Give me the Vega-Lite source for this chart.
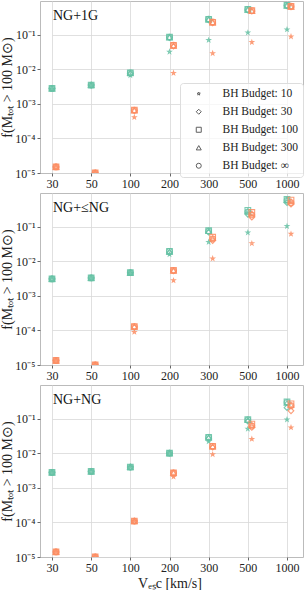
{
  "$schema": "https://vega.github.io/schema/vega-lite/v6.json",
  "padding": {"left": 0, "top": 0, "right": 0, "bottom": 0},
  "config": {
    "font": "Liberation Serif",
    "view": {"stroke": "#bbbbbb", "strokeWidth": 1},
    "axis": {"grid": true, "gridColor": "#d8d8d8", "gridWidth": 0.8, "domain": false, "tickColor": "#666666", "tickSize": 3, "labelFontSize": 12, "labelColor": "#222222", "titleFontSize": 14, "titleFontWeight": "normal", "titleColor": "#222222", "labelFont": "Liberation Serif", "titleFont": "Liberation Serif", "labelPadding": 2}
  },
  "spacing": 20,
  "bounds": "flush",
  "resolve": {"scale": {"shape": "independent"}, "legend": {"shape": "independent"}},
  "datasets": {
    "d": [
      {"panel": "1G", "model": "A", "vesc": 30, "10": 0.0027, "30": 0.0028, "100": 0.0028, "300": 0.0028, "∞": 0.0028},
      {"panel": "1G", "model": "A", "vesc": 50, "10": 0.0034, "30": 0.0035, "100": 0.0035, "300": 0.0035, "∞": 0.0035},
      {"panel": "1G", "model": "A", "vesc": 100, "10": 0.0067, "30": 0.0076, "100": 0.0079, "300": 0.0078, "∞": 0.0079},
      {"panel": "1G", "model": "A", "vesc": 200, "10": 0.032, "30": 0.083, "100": 0.086, "300": 0.085, "∞": 0.086},
      {"panel": "1G", "model": "A", "vesc": 300, "10": 0.07, "30": 0.27, "100": 0.28, "300": 0.28, "∞": 0.285},
      {"panel": "1G", "model": "A", "vesc": 500, "10": 0.115, "30": 0.52, "100": 0.54, "300": 0.53, "∞": 0.54},
      {"panel": "1G", "model": "A", "vesc": 1000, "10": 0.142, "30": 0.69, "100": 0.71, "300": 0.70, "∞": 0.71},
      {"panel": "1G", "model": "B", "vesc": 30, "10": 0.0000145, "30": 0.000015, "100": 0.000015, "300": 0.000015, "∞": 0.000015},
      {"panel": "1G", "model": "B", "vesc": 50, "10": 0.00001, "30": 0.00001, "100": 0.00001, "300": 0.00001, "∞": 0.00001},
      {"panel": "1G", "model": "B", "vesc": 100, "10": 0.00041, "30": 0.00064, "100": 0.00066, "300": 0.00065, "∞": 0.00066},
      {"panel": "1G", "model": "B", "vesc": 200, "10": 0.0078, "30": 0.047, "100": 0.049, "300": 0.048, "∞": 0.05},
      {"panel": "1G", "model": "B", "vesc": 300, "10": 0.029, "30": 0.22, "100": 0.23, "300": 0.23, "∞": 0.235},
      {"panel": "1G", "model": "B", "vesc": 500, "10": 0.061, "30": 0.48, "100": 0.5, "300": 0.49, "∞": 0.5},
      {"panel": "1G", "model": "B", "vesc": 1000, "10": 0.089, "30": 0.64, "100": 0.66, "300": 0.65, "∞": 0.67},
      {"panel": "LE", "model": "A", "vesc": 30, "10": 0.0030, "30": 0.0031, "100": 0.0031, "300": 0.0031, "∞": 0.0031},
      {"panel": "LE", "model": "A", "vesc": 50, "10": 0.0032, "30": 0.0033, "100": 0.0033, "300": 0.0033, "∞": 0.0033},
      {"panel": "LE", "model": "A", "vesc": 100, "10": 0.0046, "30": 0.0047, "100": 0.0047, "300": 0.0047, "∞": 0.0047},
      {"panel": "LE", "model": "A", "vesc": 200, "10": 0.016, "30": 0.018, "100": 0.0195, "300": 0.019, "∞": 0.0195},
      {"panel": "LE", "model": "A", "vesc": 300, "10": 0.036, "30": 0.07, "100": 0.077, "300": 0.075, "∞": 0.075},
      {"panel": "LE", "model": "A", "vesc": 500, "10": 0.068, "30": 0.23, "100": 0.30, "300": 0.28, "∞": 0.27},
      {"panel": "LE", "model": "A", "vesc": 1000, "10": 0.104, "30": 0.50, "100": 0.62, "300": 0.60, "∞": 0.58},
      {"panel": "LE", "model": "B", "vesc": 30, "10": 0.0000135, "30": 0.0000135, "100": 0.0000135, "300": 0.0000135, "∞": 0.0000135},
      {"panel": "LE", "model": "B", "vesc": 50, "10": 0.00001, "30": 0.00001, "100": 0.00001, "300": 0.00001, "∞": 0.00001},
      {"panel": "LE", "model": "B", "vesc": 100, "10": 0.00009, "30": 0.000125, "100": 0.00013, "300": 0.00013, "∞": 0.00013},
      {"panel": "LE", "model": "B", "vesc": 200, "10": 0.0028, "30": 0.0053, "100": 0.0055, "300": 0.0054, "∞": 0.0054},
      {"panel": "LE", "model": "B", "vesc": 300, "10": 0.012, "30": 0.040, "100": 0.050, "300": 0.047, "∞": 0.045},
      {"panel": "LE", "model": "B", "vesc": 500, "10": 0.033, "30": 0.19, "100": 0.26, "300": 0.24, "∞": 0.22},
      {"panel": "LE", "model": "B", "vesc": 1000, "10": 0.062, "30": 0.45, "100": 0.59, "300": 0.55, "∞": 0.50},
      {"panel": "NG", "model": "A", "vesc": 30, "10": 0.0028, "30": 0.0028, "100": 0.0028, "300": 0.0028, "∞": 0.0028},
      {"panel": "NG", "model": "A", "vesc": 50, "10": 0.0030, "30": 0.0030, "100": 0.0030, "300": 0.0030, "∞": 0.0030},
      {"panel": "NG", "model": "A", "vesc": 100, "10": 0.0040, "30": 0.0040, "100": 0.0040, "300": 0.0040, "∞": 0.0040},
      {"panel": "NG", "model": "A", "vesc": 200, "10": 0.0098, "30": 0.0101, "100": 0.0101, "300": 0.0101, "∞": 0.0101},
      {"panel": "NG", "model": "A", "vesc": 300, "10": 0.022, "30": 0.027, "100": 0.029, "300": 0.029, "∞": 0.029},
      {"panel": "NG", "model": "A", "vesc": 500, "10": 0.051, "30": 0.085, "100": 0.095, "300": 0.093, "∞": 0.093},
      {"panel": "NG", "model": "A", "vesc": 1000, "10": 0.095, "30": 0.21, "100": 0.31, "300": 0.29, "∞": 0.30},
      {"panel": "NG", "model": "B", "vesc": 30, "10": 0.000014, "30": 0.000014, "100": 0.000014, "300": 0.000014, "∞": 0.000014},
      {"panel": "NG", "model": "B", "vesc": 50, "10": 0.00001, "30": 0.00001, "100": 0.00001, "300": 0.00001, "∞": 0.00001},
      {"panel": "NG", "model": "B", "vesc": 100, "10": 0.00011, "30": 0.00011, "100": 0.00011, "300": 0.00011, "∞": 0.00011},
      {"panel": "NG", "model": "B", "vesc": 200, "10": 0.0021, "30": 0.0027, "100": 0.0027, "300": 0.0027, "∞": 0.0027},
      {"panel": "NG", "model": "B", "vesc": 300, "10": 0.0093, "30": 0.015, "100": 0.016, "300": 0.016, "∞": 0.016},
      {"panel": "NG", "model": "B", "vesc": 500, "10": 0.026, "30": 0.056, "100": 0.070, "300": 0.066, "∞": 0.062},
      {"panel": "NG", "model": "B", "vesc": 1000, "10": 0.056, "30": 0.17, "100": 0.27, "300": 0.25, "∞": 0.24}
    ]
  },
  "vconcat": [
    {
      "width": 263, "height": 172,
      "title": {"text": "NG+1G", "anchor": "start", "frame": "group", "offset": -22, "dx": 13, "fontSize": 14, "fontWeight": "normal", "color": "#111111", "font": "Liberation Serif"},
      "data": {"name": "d"},
      "encoding": {
        "x": {"field": "vesc", "type": "ordinal", "scale": {"type": "point", "range": [12, 247], "padding": 0}, "axis": {"labelAngle": 0, "title": null}},
        "y": {"field": "f", "type": "quantitative", "scale": {"type": "log", "domain": [0.00001, 0.95], "nice": false}, "axis": {"values": [0.00001, 0.0001, 0.001, 0.01, 0.1], "labelExpr": "datum.value >= 0.09 ? '10⁻¹' : datum.value >= 0.009 ? '10⁻²' : datum.value >= 0.0009 ? '10⁻³' : datum.value >= 0.00009 ? '10⁻⁴' : '10⁻⁵'", "title": "f(Mₜₒₜ > 100 M⊙)", "titlePadding": 0}}
      },
      "layer": [
        {"data": {"values": [{}]}, "mark": {"type": "rect", "color": "#7fd6d6", "opacity": 0.2}, "encoding": {"x": {"value": 0}, "x2": {"value": "width"}, "y": {"datum": 0.0155, "type": "quantitative"}, "y2": {"datum": 0.00001}}},
        {"transform": [{"filter": "datum.panel == '1G' && datum.model == 'A'"}, {"fold": ["10", "30", "100", "300", "∞"], "as": ["budget", "f"]}],
         "mark": {"type": "point", "filled": false, "color": "#66c2a5", "strokeWidth": 1.1, "size": 32, "opacity": 0.85, "clip": true},
         "encoding": {"shape": {"field": "budget", "type": "nominal", "scale": {"domain": ["10", "30", "100", "300", "∞"], "range": ["M0,-0.65L0.153,-0.21L0.618,-0.201L0.247,0.08L0.382,0.526L0,0.26L-0.382,0.526L-0.247,0.08L-0.618,-0.201L-0.153,-0.21Z", "diamond", "square", "triangle-up", "circle"]},
           "legend": {"orient": "none", "legendX": 140, "legendY": 82, "title": null, "labelExpr": "'BH Budget: ' + datum.label", "fillColor": "rgba(255,255,255,0.75)", "strokeColor": "#dddddd", "cornerRadius": 3, "padding": 5, "symbolOffset": 8, "symbolStrokeColor": "#444444", "symbolFillColor": "transparent", "symbolStrokeWidth": 1, "symbolSize": 25, "labelFontSize": 11.5, "labelFont": "Liberation Serif", "labelColor": "#222222", "rowPadding": 5, "labelOffset": 18}}}},
        {"transform": [{"filter": "datum.panel == '1G' && datum.model == 'B'"}, {"fold": ["10", "30", "100", "300", "∞"], "as": ["budget", "f"]}],
         "mark": {"type": "point", "filled": false, "color": "#fc8d62", "strokeWidth": 1.1, "size": 32, "opacity": 0.85, "clip": true, "xOffset": 4},
         "encoding": {"shape": {"field": "budget", "type": "nominal"}}}
      ]
    },
    {
      "width": 263, "height": 172,
      "title": {"text": "NG+≤NG", "anchor": "start", "frame": "group", "offset": -22, "dx": 13, "fontSize": 14, "fontWeight": "normal", "color": "#111111", "font": "Liberation Serif"},
      "data": {"name": "d"},
      "encoding": {
        "x": {"field": "vesc", "type": "ordinal", "scale": {"type": "point", "range": [12, 247], "padding": 0}, "axis": {"labelAngle": 0, "title": null}},
        "y": {"field": "f", "type": "quantitative", "scale": {"type": "log", "domain": [0.00001, 0.95], "nice": false}, "axis": {"values": [0.00001, 0.0001, 0.001, 0.01, 0.1], "labelExpr": "datum.value >= 0.09 ? '10⁻¹' : datum.value >= 0.009 ? '10⁻²' : datum.value >= 0.0009 ? '10⁻³' : datum.value >= 0.00009 ? '10⁻⁴' : '10⁻⁵'", "title": "f(Mₜₒₜ > 100 M⊙)", "titlePadding": 0}}
      },
      "layer": [
        {"data": {"values": [{}]}, "mark": {"type": "rect", "color": "#7fd6d6", "opacity": 0.2}, "encoding": {"x": {"value": 0}, "x2": {"value": "width"}, "y": {"datum": 0.0155, "type": "quantitative"}, "y2": {"datum": 0.00001}}},
        {"transform": [{"filter": "datum.panel == 'LE' && datum.model == 'A'"}, {"fold": ["10", "30", "100", "300", "∞"], "as": ["budget", "f"]}],
         "mark": {"type": "point", "filled": false, "color": "#66c2a5", "strokeWidth": 1.1, "size": 32, "opacity": 0.85, "clip": true},
         "encoding": {"shape": {"field": "budget", "type": "nominal", "scale": {"domain": ["10", "30", "100", "300", "∞"], "range": ["M0,-0.65L0.153,-0.21L0.618,-0.201L0.247,0.08L0.382,0.526L0,0.26L-0.382,0.526L-0.247,0.08L-0.618,-0.201L-0.153,-0.21Z", "diamond", "square", "triangle-up", "circle"]}, "legend": null}}},
        {"transform": [{"filter": "datum.panel == 'LE' && datum.model == 'B'"}, {"fold": ["10", "30", "100", "300", "∞"], "as": ["budget", "f"]}],
         "mark": {"type": "point", "filled": false, "color": "#fc8d62", "strokeWidth": 1.1, "size": 32, "opacity": 0.85, "clip": true, "xOffset": 4},
         "encoding": {"shape": {"field": "budget", "type": "nominal", "legend": null}}}
      ]
    },
    {
      "width": 263, "height": 172,
      "title": {"text": "NG+NG", "anchor": "start", "frame": "group", "offset": -22, "dx": 13, "fontSize": 14, "fontWeight": "normal", "color": "#111111", "font": "Liberation Serif"},
      "data": {"name": "d"},
      "encoding": {
        "x": {"field": "vesc", "type": "ordinal", "scale": {"type": "point", "range": [12, 247], "padding": 0}, "axis": {"labelAngle": 0, "title": "Vₑₛc [km/s]", "titlePadding": 3}},
        "y": {"field": "f", "type": "quantitative", "scale": {"type": "log", "domain": [0.00001, 0.95], "nice": false}, "axis": {"values": [0.00001, 0.0001, 0.001, 0.01, 0.1], "labelExpr": "datum.value >= 0.09 ? '10⁻¹' : datum.value >= 0.009 ? '10⁻²' : datum.value >= 0.0009 ? '10⁻³' : datum.value >= 0.00009 ? '10⁻⁴' : '10⁻⁵'", "title": "f(Mₜₒₜ > 100 M⊙)", "titlePadding": 0}}
      },
      "layer": [
        {"data": {"values": [{}]}, "mark": {"type": "rect", "color": "#7fd6d6", "opacity": 0.2}, "encoding": {"x": {"value": 0}, "x2": {"value": "width"}, "y": {"datum": 0.0155, "type": "quantitative"}, "y2": {"datum": 0.00001}}},
        {"transform": [{"filter": "datum.panel == 'NG' && datum.model == 'A'"}, {"fold": ["10", "30", "100", "300", "∞"], "as": ["budget", "f"]}],
         "mark": {"type": "point", "filled": false, "color": "#66c2a5", "strokeWidth": 1.1, "size": 32, "opacity": 0.85, "clip": true},
         "encoding": {"shape": {"field": "budget", "type": "nominal", "scale": {"domain": ["10", "30", "100", "300", "∞"], "range": ["M0,-0.65L0.153,-0.21L0.618,-0.201L0.247,0.08L0.382,0.526L0,0.26L-0.382,0.526L-0.247,0.08L-0.618,-0.201L-0.153,-0.21Z", "diamond", "square", "triangle-up", "circle"]}, "legend": null}}},
        {"transform": [{"filter": "datum.panel == 'NG' && datum.model == 'B'"}, {"fold": ["10", "30", "100", "300", "∞"], "as": ["budget", "f"]}],
         "mark": {"type": "point", "filled": false, "color": "#fc8d62", "strokeWidth": 1.1, "size": 32, "opacity": 0.85, "clip": true, "xOffset": 4},
         "encoding": {"shape": {"field": "budget", "type": "nominal", "legend": null}}}
      ]
    }
  ]
}
